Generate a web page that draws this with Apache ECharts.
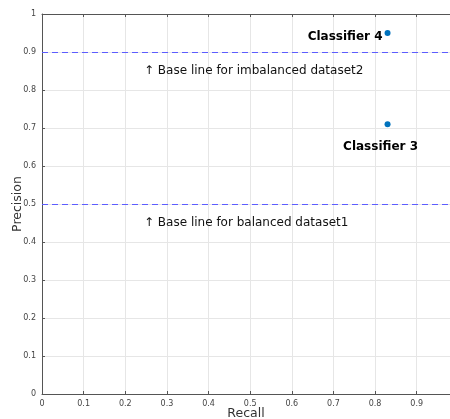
<!DOCTYPE html>
<html><head><meta charset="utf-8">
<script src="https://cdn.jsdelivr.net/npm/echarts@6/dist/echarts.min.js"></script>
<style>html,body{margin:0;padding:0;background:#fff}#c{width:450px;height:419px}</style>
</head><body><div id="c"></div>
<script>
const classifierNames = ['Classifier 3', 'Classifier 4'];
const recallValues = [0.83, 0.83];
const precisionValues = [0.71, 0.95];
const baseLineValues = [0.5, 0.9];
const baseLineTexts = ['↑ Base line for balanced dataset1', '↑ Base line for imbalanced dataset2'];
const baseLineTextX = [0.245, 0.245];
const baseLineTextY = [0.45, 0.85];

const chart = echarts.init(document.getElementById('c'), null, {renderer: 'canvas'});
const font = 'DejaVu Sans';
const axisLabel = {fontSize: 8, color: '#444', fontFamily: font, margin: 6};
const dashStyle = {color: '#5c5cff', type: [6, 4], width: 1, opacity: 1};
chart.setOption({
  animation: false,
  grid: {left: 42, top: 14, right: 0, bottom: 25, containLabel: false, outerBoundsMode: 'none'},
  xAxis: [{
    type: 'value', min: 0, max: 0.98, interval: 0.1,
    name: 'Recall', nameLocation: 'middle', nameGap: 13, nameMoveOverlap: false,
    nameTextStyle: {fontSize: 12.5, color: '#333', fontFamily: font},
    axisLine: {show: true, lineStyle: {color: '#555', width: 1}},
    axisTick: {show: true, inside: true, length: 3, lineStyle: {color: '#555'}},
    axisLabel: Object.assign({showMaxLabel: false, margin: 5}, axisLabel),
    splitLine: {show: true, lineStyle: {color: '#e6e6e6', width: 1}}
  }, {
    type: 'value', min: 0, max: 0.98, interval: 0.1, position: 'top',
    axisLine: {show: true, lineStyle: {color: '#555', width: 1}},
    axisTick: {show: true, inside: true, length: 3, lineStyle: {color: '#555'}},
    axisLabel: {show: false}, splitLine: {show: false}
  }],
  yAxis: {
    type: 'value', min: 0, max: 1, interval: 0.1,
    name: 'Precision', nameLocation: 'middle', nameGap: 18, nameMoveOverlap: false,
    nameTextStyle: {fontSize: 12.5, color: '#333', fontFamily: font},
    axisLine: {show: true, lineStyle: {color: '#555', width: 1}},
    axisTick: {show: true, inside: true, length: 3, lineStyle: {color: '#555'}},
    axisLabel: axisLabel,
    splitLine: {show: true, lineStyle: {color: '#e6e6e6', width: 1}}
  },
  series: [{
    type: 'scatter', symbolSize: 6,
    itemStyle: {color: '#0072bd', opacity: 1},
    emphasis: {disabled: true},
    data: recallValues.map((x, i) => ({
      value: [x, precisionValues[i]], name: classifierNames[i],
      label: i === 1
        ? {show: true, position: 'left', distance: 2, offset: [0, 4], formatter: '{b}', fontWeight: 'bold', fontSize: 12, color: '#000', opacity: 1, fontFamily: font}
        : {show: true, position: 'bottom', distance: 14, offset: [-7, 0], formatter: '{b}', fontWeight: 'bold', fontSize: 12, color: '#000', opacity: 1, fontFamily: font}
    })),
    markLine: {
      silent: true, symbol: 'none', label: {show: false},
      emphasis: {disabled: true},
      lineStyle: dashStyle,
      data: baseLineValues.map(v => ({yAxis: v, lineStyle: dashStyle}))
    }
  }, {
    type: 'scatter', symbolSize: 0,
    emphasis: {disabled: true},
    data: baseLineTexts.map((t, i) => ({value: [baseLineTextX[i], baseLineTextY[i]], name: t})),
    label: {show: true, position: 'right', distance: 0, formatter: '{b}', fontSize: 12, color: '#111', opacity: 1, fontFamily: font}
  }]
});
</script></body></html>
